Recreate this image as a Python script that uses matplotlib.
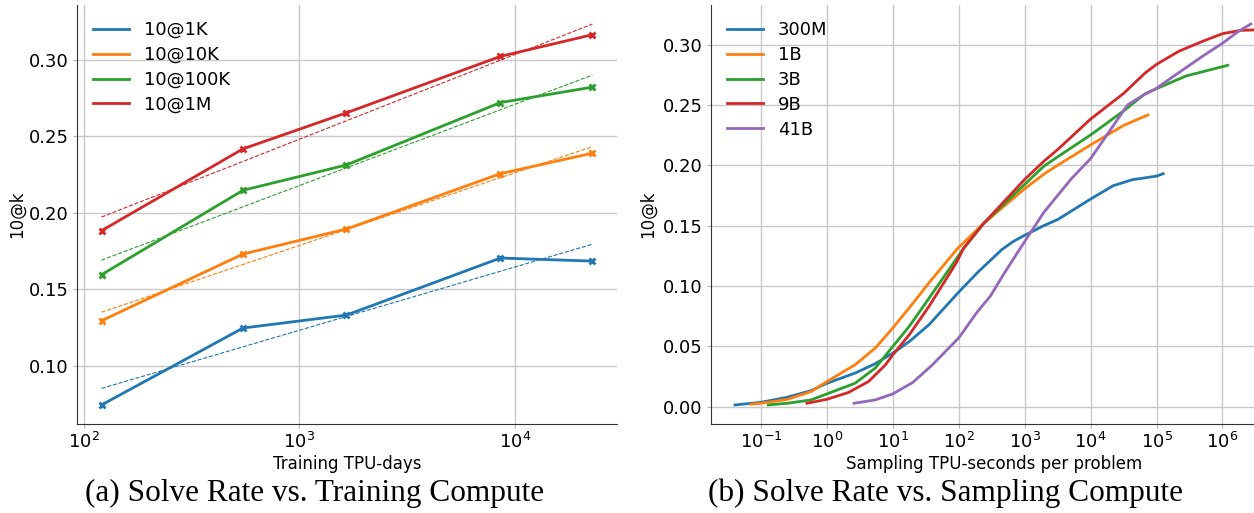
import numpy as np
import matplotlib
matplotlib.use("Agg")
import matplotlib.pyplot as plt

# (a) solve rate vs training compute
train_days = [121, 548, 1656, 8570, 22900]
train_labels = ["10@1K", "10@10K", "10@100K", "10@1M"]
train_rates = [
    [0.0742, 0.1245, 0.1330, 0.1703, 0.1683],
    [0.1293, 0.1729, 0.1893, 0.2255, 0.2389],
    [0.1594, 0.2146, 0.2312, 0.2720, 0.2821],
    [0.1882, 0.2417, 0.2653, 0.3022, 0.3164],
]

# (b) solve rate vs sampling compute (log10 of TPU-seconds, solve rate)
model_labels = ["300M", "1B", "3B", "9B", "41B"]
samp_log = [
    [-1.395, -1.0, -0.6, -0.24, 0.0, 0.426, 0.733, 1.0, 1.25, 1.55, 2.0, 2.3, 2.65, 2.83, 3.0,
     3.29, 3.5, 4.0, 4.34, 4.63, 5.0, 5.1],
    [-1.154, -1.0, -0.6, -0.24, 0.0, 0.426, 0.733, 1.0, 1.25, 1.55, 1.98, 2.37, 3.0, 3.31,
     3.5, 4.0, 4.5, 4.87],
    [-0.89, -0.6, -0.24, 0.0, 0.426, 0.733, 1.0, 1.25, 1.55, 2.07, 2.37, 3.0, 3.29, 3.5, 4.0,
     4.5, 4.82, 5.0, 5.45, 6.08],
    [-0.303, 0.0, 0.323, 0.63, 0.887, 1.0, 1.25, 1.55, 1.96, 2.07, 2.37, 3.0, 3.29, 3.5, 4.0,
     4.5, 4.83, 5.0, 5.34, 5.7, 6.0, 6.27, 6.58],
    [0.41, 0.733, 1.0, 1.3, 1.6, 2.0, 2.27, 2.48, 2.68, 2.93, 3.29, 3.71, 4.0, 4.56, 4.82,
     4.98, 5.34, 5.7, 6.0, 6.22, 6.43],
]
samp_rates = [
    [0.0014, 0.0036, 0.0078, 0.0133, 0.0194, 0.0278, 0.0356, 0.0444, 0.0540, 0.0680, 0.0950,
     0.1120, 0.1300, 0.1370, 0.1420, 0.1500, 0.1550, 0.1720, 0.1830, 0.1880, 0.1910, 0.1930],
    [0.0020, 0.0028, 0.0060, 0.0125, 0.0208, 0.0347, 0.0486, 0.0653, 0.0820, 0.1028, 0.1310,
     0.1514, 0.1806, 0.1934, 0.2000, 0.2169, 0.2330, 0.2417],
    [0.0014, 0.0028, 0.0056, 0.0106, 0.0194, 0.0320, 0.0500, 0.0667, 0.0900, 0.1310, 0.1514,
     0.1842, 0.1992, 0.2070, 0.2251, 0.2450, 0.2590, 0.2635, 0.2740, 0.2828],
    [0.0028, 0.0061, 0.0117, 0.0208, 0.0347, 0.0430, 0.0597, 0.0833, 0.1190, 0.1310, 0.1514,
     0.1883, 0.2033, 0.2130, 0.2383, 0.2595, 0.2766, 0.2836, 0.2945, 0.3027, 0.3090, 0.3117,
     0.3123],
    [0.0028, 0.0056, 0.0106, 0.0200, 0.0347, 0.0570, 0.0778, 0.0917, 0.1097, 0.1310, 0.1610,
     0.1890, 0.2055, 0.2500, 0.2587, 0.2631, 0.2768, 0.2904, 0.3010, 0.3101, 0.3170],
]

colors = ["#1f77b4", "#ff7f0e", "#2ca02c", "#d62728", "#9467bd"]

fig = plt.figure(figsize=(12.54, 5.13), dpi=100)
ax1 = fig.add_axes([0.0614, 0.1735, 0.4306, 0.8168])
ax2 = fig.add_axes([0.567, 0.1735, 0.452, 0.8168])


def style_axis(ax):
    ax.set_xscale("log")
    ax.grid(True, which="major", color="#c8c8c8", linewidth=1.0)
    ax.set_axisbelow(True)
    for side in ("top", "right"):
        ax.spines[side].set_visible(False)
    for side in ("left", "bottom"):
        ax.spines[side].set_color("#333333")
    ax.tick_params(which="major", length=3, color="#b0b0b0", labelsize=13, pad=3)
    ax.minorticks_off()


# left panel: measured points plus log-linear fit
lx = np.log10(train_days)
for i, (lab, ys) in enumerate(zip(train_labels, train_rates)):
    ax1.plot(train_days, ys, color=colors[i], lw=2, label=lab)
    ax1.plot(train_days, ys, color=colors[i], ls="none", marker="x", ms=5, mew=2)
    k, b = np.polyfit(lx, ys, 1)
    ends = np.array([lx[0], lx[-1]])
    ax1.plot(10 ** ends, k * ends + b, color=colors[i], lw=0.8, ls="--")
style_axis(ax1)
ax1.minorticks_off()
ax1.set_yticks([0.10, 0.15, 0.20, 0.25, 0.30])
ax1.set_xlabel("Training TPU-days", fontsize=12, labelpad=2)
ax1.set_ylabel("10@k", fontsize=12, labelpad=2)
ax1.legend(loc="upper left", frameon=False, fontsize=13, labelspacing=0.38)

# right panel
for i, (lab, xs, ys) in enumerate(zip(model_labels, samp_log, samp_rates)):
    ax2.plot(10 ** np.array(xs), ys, color=colors[i], lw=2, label=lab)
style_axis(ax2)
ax2.set_xlim(10 ** -1.76, 10 ** 6.84)
ax2.minorticks_off()
ax2.set_yticks([0.00, 0.05, 0.10, 0.15, 0.20, 0.25, 0.30])
ax2.set_xlabel("Sampling TPU-seconds per problem", fontsize=12, labelpad=2)
ax2.set_ylabel("10@k", fontsize=12)
ax2.legend(loc="upper left", frameon=False, fontsize=13, labelspacing=0.38)

fig.text(315 / 1254, 1 - 493 / 513, "(a) Solve Rate vs. Training Compute",
         ha="center", va="center", family="Liberation Serif", fontsize=22.5)
fig.text(945 / 1254, 1 - 493 / 513, "(b) Solve Rate vs. Sampling Compute",
         ha="center", va="center", family="Liberation Serif", fontsize=22.5)

fig.savefig("out.png", dpi=100)
